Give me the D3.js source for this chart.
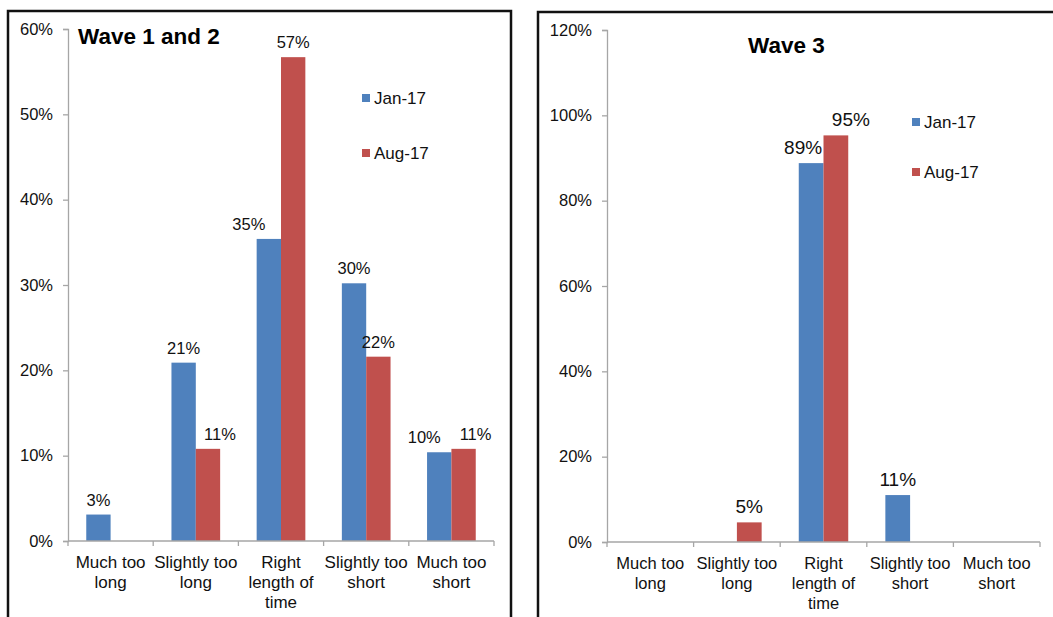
<!DOCTYPE html>
<html><head><meta charset="utf-8">
<script src="https://cdn.jsdelivr.net/npm/d3@7"></script>
<style>body{margin:0;background:#fff}svg{display:block;font-family:"Liberation Sans",Arial,sans-serif}</style>
</head><body><svg id="c" width="1053" height="617"></svg>
<script>
const categories = ["Much too long","Slightly too long","Right length of time","Slightly too short","Much too short"];
const categoryLines = [["Much too","long"],["Slightly too","long"],["Right","length of","time"],["Slightly too","short"],["Much too","short"]];
const seriesNames = ["Jan-17","Aug-17"];
const wave12Jan = [3.1, 20.9, 35.4, 30.2, 10.4];
const wave12Aug = [0, 10.8, 56.7, 21.6, 10.8];
const wave3Jan = [0, 0, 88.8, 11.0, 0];
const wave3Aug = [0, 4.6, 95.3, 0, 0];
const wave12Ticks = [0,10,20,30,40,50,60];
const wave3Ticks = [0,20,40,60,80,100,120];
// label nudges (px) to mimic the original label placement
const wave12Nudge = [[0,0,-20,0,-15],[0,12,0,0,12]];
const wave3Nudge = [[0,0,-8,0,0],[0,0,15,0,0]];

const colors = ["#4f81bd","#c0504d"];
const svg = d3.select("#c");

function panel(o){
  const g = svg.append("g");
  g.append("rect").attr("x",o.frame[0]).attr("y",o.frame[1]).attr("width",o.frame[2]).attr("height",o.frame[3])
    .attr("fill","none").attr("stroke","#111").attr("stroke-width",2.5);
  const y = d3.scaleLinear().domain([0,o.max]).range([o.y0,o.y1]);
  const x = d3.scaleBand().domain(categories).range([o.x0,o.x1]);
  const bw = x.bandwidth()/3.5;
  const off = (x.bandwidth()-2*bw)/2;
  const ya = g.append("g").attr("transform",`translate(${o.x0},0)`)
    .call(d3.axisLeft(y).tickValues(o.ticks).tickSize(5).tickPadding(10).tickFormat(d=>d+"%"));
  ya.select(".domain").attr("stroke","#a6a6a6").attr("stroke-width",1.3);
  ya.selectAll(".tick line").attr("stroke","#a6a6a6").attr("stroke-width",1.3);
  ya.selectAll(".tick text").attr("fill","#111").style("font-size",o.tickFont+"px").style("font-family","Liberation Sans, Arial, sans-serif");
  [o.jan,o.aug].forEach((vals,si)=>{
    vals.forEach((v,i)=>{
      if(v<=0) return;
      const bx = x(categories[i])+off+si*bw;
      g.append("rect").attr("x",bx).attr("y",y(v)).attr("width",bw).attr("height",y(0)-y(v)).attr("fill",colors[si]);
      g.append("text").attr("x",bx+bw/2+o.nudge[si][i]).attr("y",y(v)-9).attr("text-anchor","middle")
        .attr("fill","#111").style("font-size",o.labelFont+"px").text(Math.round(v)+"%");
    });
  });
  g.append("line").attr("x1",o.x0).attr("x2",o.x1).attr("y1",y(0)).attr("y2",y(0)).attr("stroke","#a6a6a6").attr("stroke-width",1.3);
  const bounds = categories.map(c=>x(c)).concat([o.x1]);
  bounds.forEach(b=>g.append("line").attr("x1",b).attr("x2",b).attr("y1",y(0)).attr("y2",y(0)+5).attr("stroke","#a6a6a6").attr("stroke-width",1.3));
  categoryLines.forEach((lines,i)=>{
    const t = g.append("text").attr("text-anchor","middle").attr("fill","#111").style("font-size",o.catFont+"px");
    lines.forEach((l,j)=>t.append("tspan").attr("x",x(categories[i])+x.bandwidth()/2).attr("y",o.catY+j*20).text(l));
  });
  g.append("text").attr("x",o.titleX).attr("y",o.titleY).style("font-size","22.5px").style("font-weight","bold").attr("fill","#000").text(o.title);
  seriesNames.forEach((n,i)=>{
    const ly = o.legY[i];
    g.append("rect").attr("x",o.legX).attr("y",ly-4).attr("width",8).attr("height",8).attr("fill",colors[i]);
    g.append("text").attr("x",o.legX+12).attr("y",ly).attr("dy","0.35em").attr("fill","#111").style("font-size","17px").text(n);
  });
}

panel({frame:[8,11,503,640],max:60,y0:541,y1:29,x0:68,x1:494,ticks:wave12Ticks,jan:wave12Jan,aug:wave12Aug,
  nudge:wave12Nudge,tickFont:16.5,labelFont:16.5,catFont:17,catY:568,title:"Wave 1 and 2",titleX:78,titleY:44,
  legX:362,legY:[98,153]});
panel({frame:[538,12,560,640],max:120,y0:542,y1:30,x0:607,x1:1040,ticks:wave3Ticks,jan:wave3Jan,aug:wave3Aug,
  nudge:wave3Nudge,tickFont:16.5,labelFont:19,catFont:16.5,catY:569,title:"Wave 3",titleX:748,titleY:53,
  legX:912,legY:[122,172]});
</script></body></html>
